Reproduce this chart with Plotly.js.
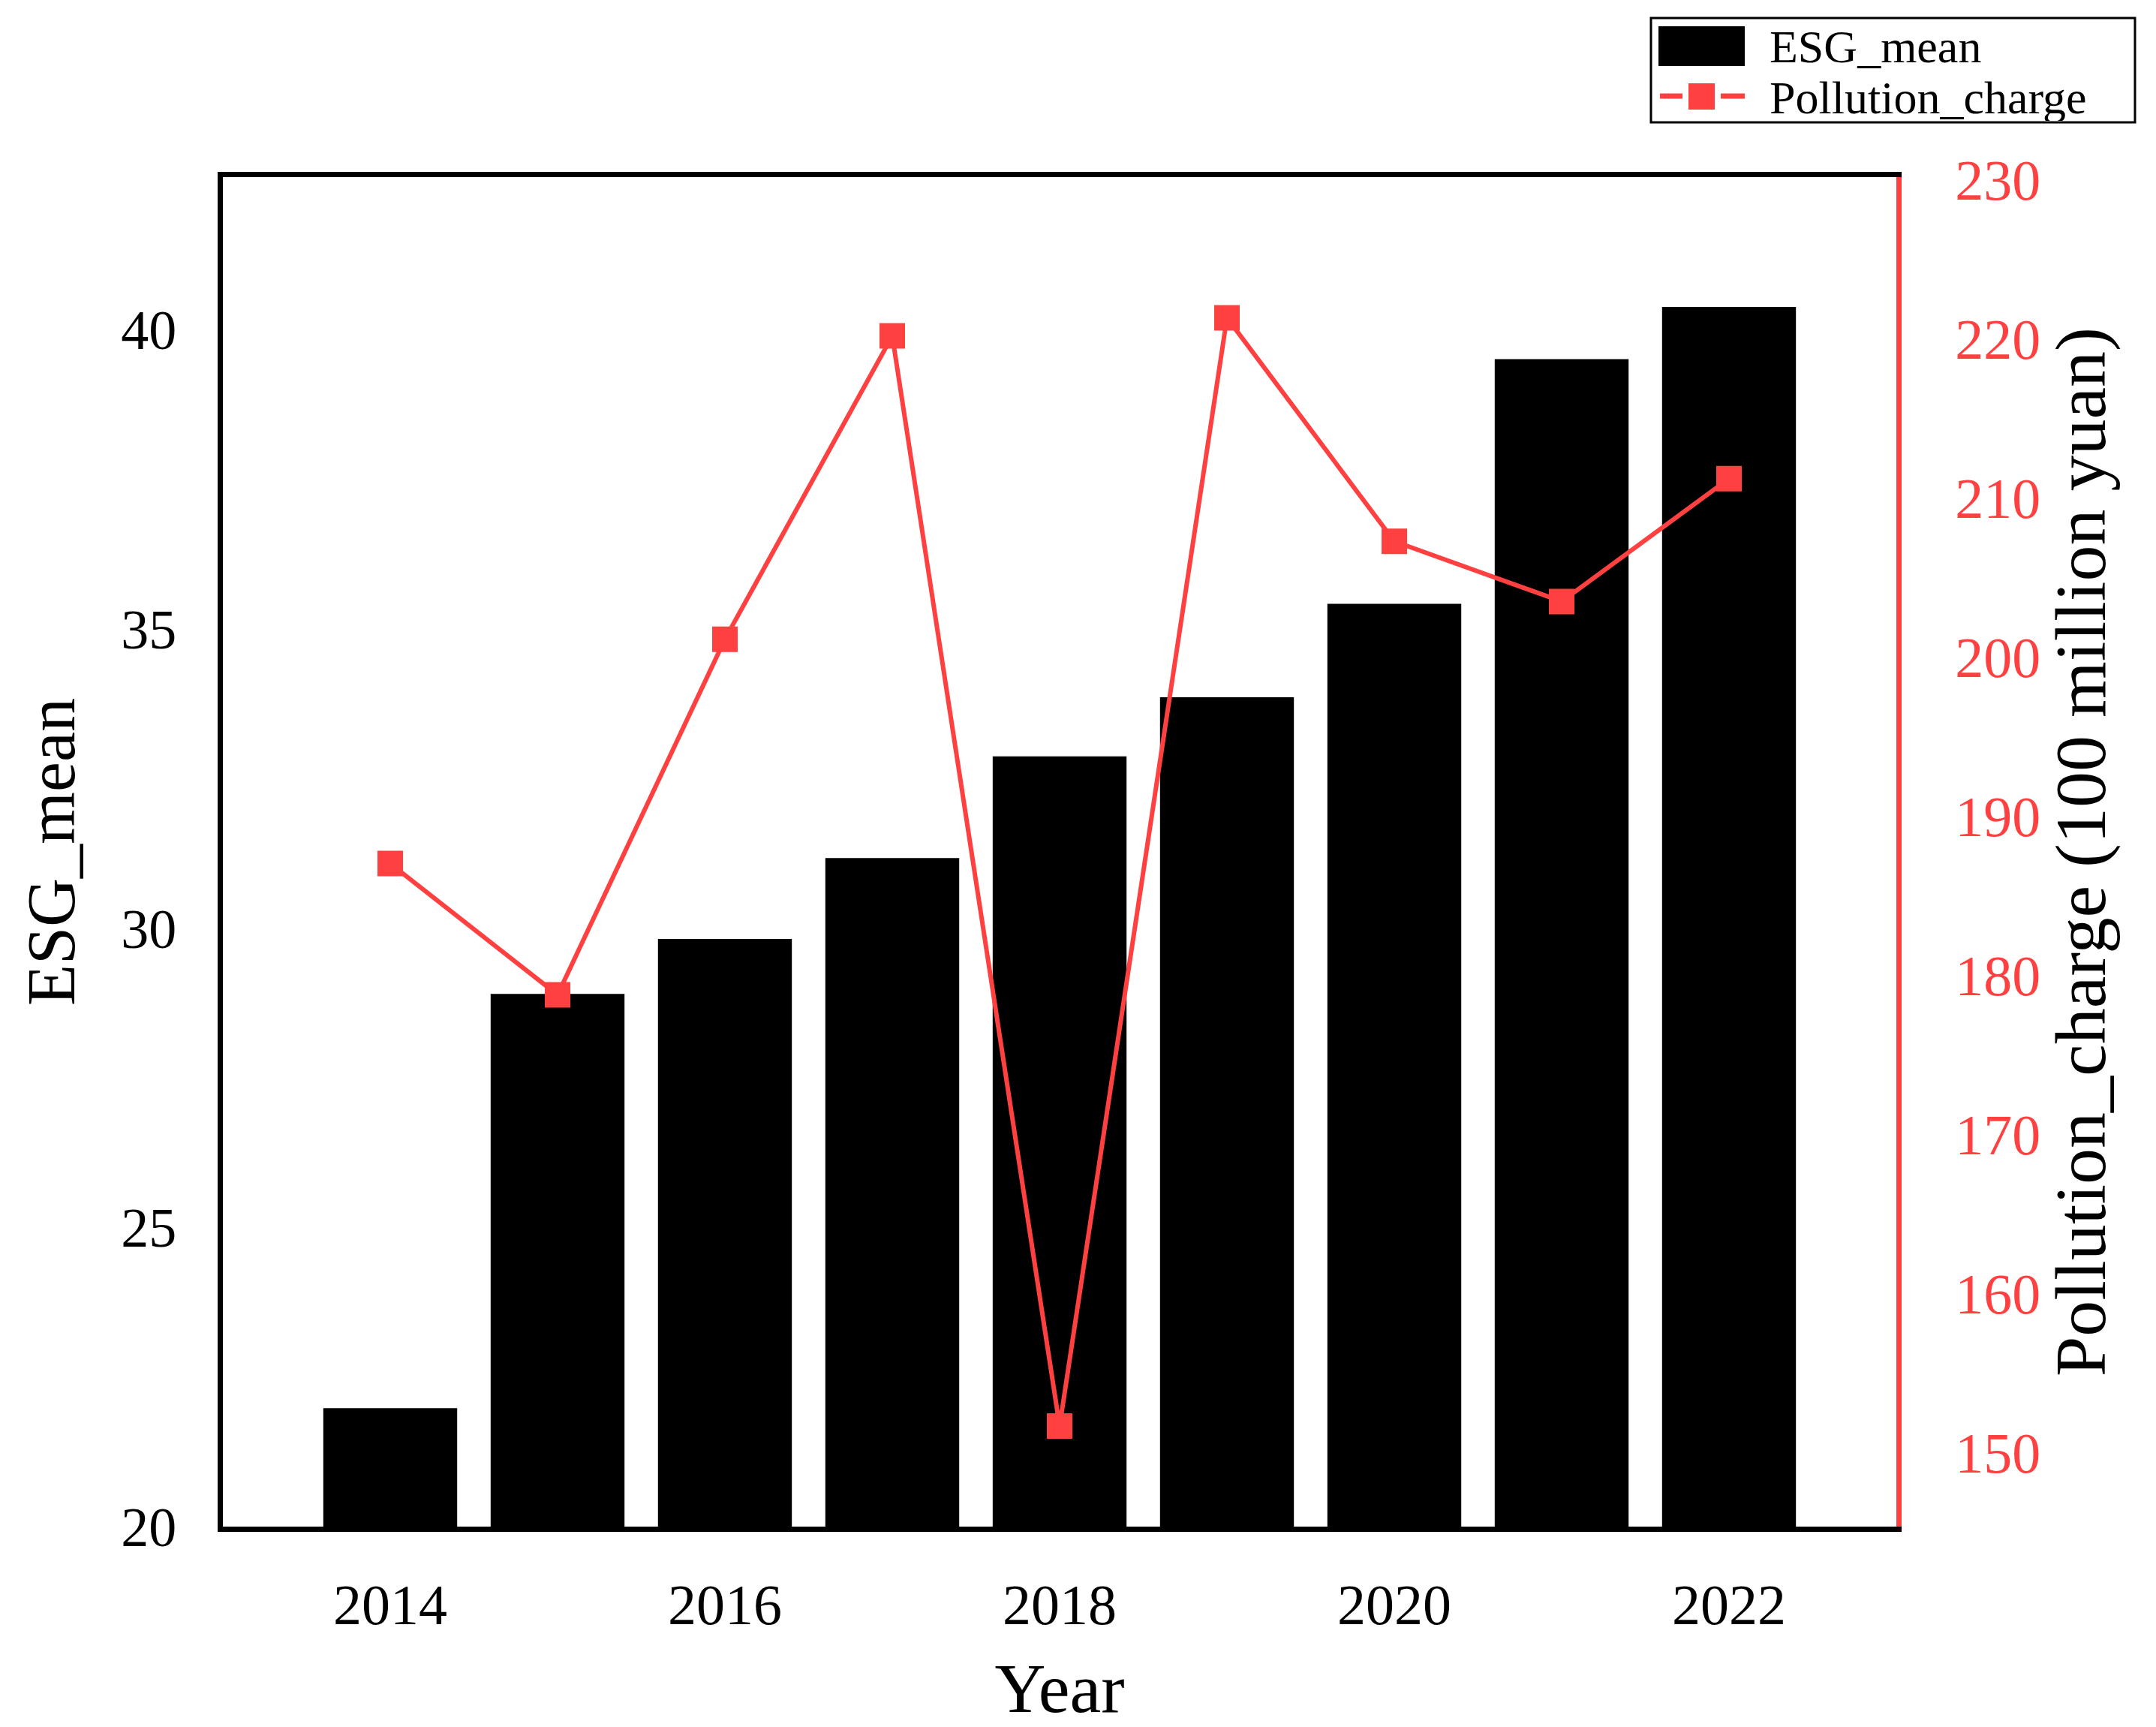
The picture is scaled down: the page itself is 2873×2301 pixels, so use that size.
<!DOCTYPE html>
<html><head><meta charset="utf-8">
<script src="https://cdn.plot.ly/plotly-3.0.1.min.js"></script>
<style>html,body{margin:0;padding:0;background:#fff;} #chart{width:2873px;height:2301px;}</style>
</head><body><div id="chart"></div>
<script>
// ---- data ----
const years = [2014, 2015, 2016, 2017, 2018, 2019, 2020, 2021, 2022];
const esgMean = [21.98, 28.90, 29.82, 31.17, 32.87, 33.86, 35.42, 39.51, 40.38];
const pollutionCharge = [187.0, 178.75, 201.1, 220.16, 151.65, 221.3, 207.25, 203.47, 211.19];
const xTickVals = [2014, 2016, 2018, 2020, 2022];
const yTickVals = [20, 25, 30, 35, 40];
const y2TickVals = [150, 160, 170, 180, 190, 200, 210, 220, 230];
const seriesNames = ['ESG_mean', 'Pollution_charge'];
const xTitle = 'Year';
const yTitle = 'ESG_mean';
const y2Title = 'Pollution_charge (100 million yuan)';

// ---- style ----
const RED = '#FF4040';
const FONT = '"Liberation Serif", "Times New Roman", serif';
const W = 2873, H = 2301;
const M = {l: 297, r: 346, t: 236, b: 267};
const PW = W - M.l - M.r, PH = H - M.t - M.b;
const px = x => (x - M.l) / PW;
const py = y => (H - M.b - y) / PH;

const traces = [
  {type: 'bar', name: seriesNames[0], x: years, y: esgMean, width: 0.8,
   marker: {color: '#000000', line: {width: 0}}, yaxis: 'y', showlegend: false},
  {type: 'scatter', mode: 'lines+markers', name: seriesNames[1], x: years, y: pollutionCharge,
   yaxis: 'y2', line: {color: RED, width: 6},
   marker: {symbol: 'square', size: 34, color: RED}, showlegend: false}
];

const legendShapes = [
  {type: 'rect', xref: 'paper', yref: 'paper', x0: px(2200), x1: px(2845), y0: py(163), y1: py(24),
   line: {color: '#000', width: 3}, fillcolor: '#fff', layer: 'above'},
  {type: 'rect', xref: 'paper', yref: 'paper', x0: px(2210), x1: px(2325), y0: py(88), y1: py(35),
   line: {width: 0}, fillcolor: '#000', layer: 'above'},
  {type: 'line', xref: 'paper', yref: 'paper', x0: px(2212), x1: px(2242), y0: py(128), y1: py(128),
   line: {color: RED, width: 7}, layer: 'above'},
  {type: 'line', xref: 'paper', yref: 'paper', x0: px(2293), x1: px(2325), y0: py(128), y1: py(128),
   line: {color: RED, width: 7}, layer: 'above'},
  {type: 'rect', xref: 'paper', yref: 'paper', x0: px(2250), x1: px(2285), y0: py(146), y1: py(111),
   line: {width: 0}, fillcolor: RED, layer: 'above'}
];
const legendAnn = [
  {xref: 'paper', yref: 'paper', x: px(2356), y: py(62), xanchor: 'left', yanchor: 'middle',
   text: seriesNames[0], showarrow: false, height: 62,
   font: {family: FONT, size: 62, color: '#000'}},
  {xref: 'paper', yref: 'paper', x: px(2356), y: py(130), xanchor: 'left', yanchor: 'middle',
   text: seriesNames[1], showarrow: false, height: 62,
   font: {family: FONT, size: 62, color: '#000'}}
];

const layout = {
  width: W, height: H,
  margin: M,
  paper_bgcolor: '#fff', plot_bgcolor: '#fff',
  font: {family: FONT, color: '#000'},
  showlegend: false,
  bargap: 0.2,
  xaxis: {
    range: [2013, 2023], tickvals: xTickVals, ticktext: xTickVals.map(String),
    showgrid: false, zeroline: false, showline: true, mirror: true,
    linecolor: '#000', linewidth: 7, ticks: '', ticklabelstandoff: 32,
    tickfont: {family: FONT, size: 76, color: '#000'},
    title: {text: xTitle, font: {family: FONT, size: 94, color: '#000'}, standoff: 48}
  },
  yaxis: {
    range: [20, 42.55], tickvals: yTickVals,
    showgrid: false, zeroline: false, showline: true, mirror: false,
    linecolor: '#000', linewidth: 7, ticks: '', ticklabelstandoff: 40,
    tickfont: {family: FONT, size: 74, color: '#000'},
    title: {text: yTitle, font: {family: FONT, size: 90, color: '#000'}, standoff: 34}
  },
  yaxis2: {
    overlaying: 'y', side: 'right',
    range: [145.33, 230.14], tickvals: y2TickVals,
    showgrid: false, zeroline: false, showline: true,
    linecolor: RED, linewidth: 7, ticks: '', ticklabelstandoff: 56,
    tickfont: {family: FONT, size: 76, color: RED},
    title: {text: y2Title, font: {family: FONT, size: 96, color: '#000'}, standoff: 12}
  },
  shapes: legendShapes,
  annotations: legendAnn
};

Plotly.newPlot('chart', traces, layout, {displayModeBar: false, staticPlot: true});
</script>
</body></html>
